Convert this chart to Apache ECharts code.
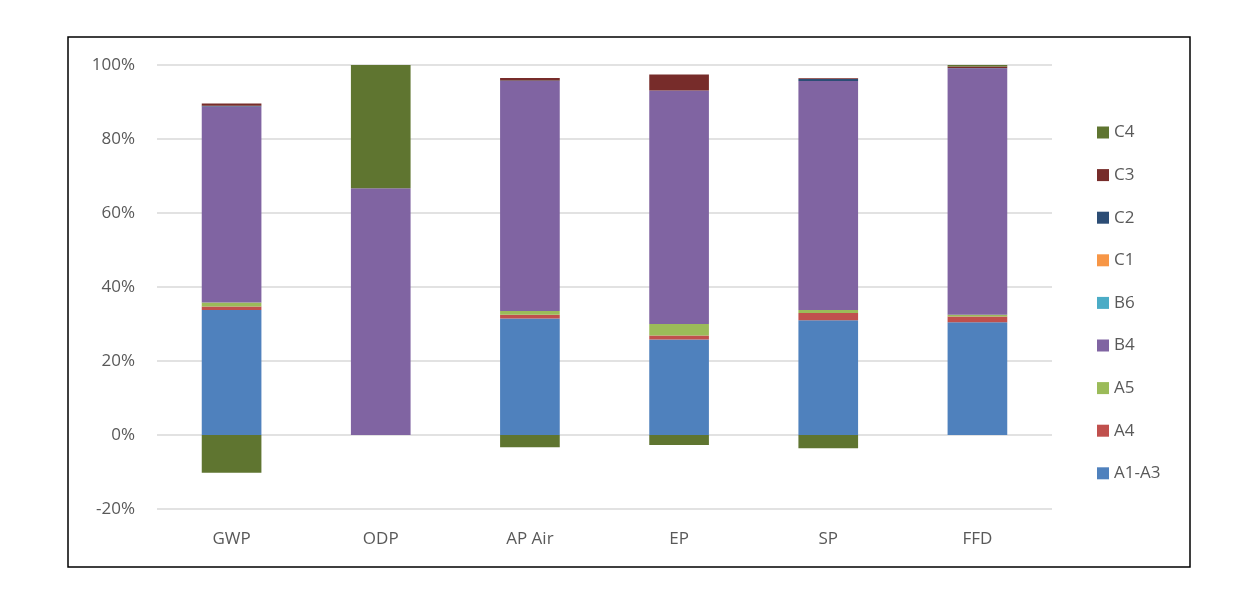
<!DOCTYPE html>
<html>
<head>
<meta charset="utf-8">
<script src="https://cdn.jsdelivr.net/npm/echarts@6/dist/echarts.min.js"></script>
<style>
  html, body { margin: 0; padding: 0; background: #fff; }
  #chart { width: 1249px; height: 594px; }
</style>
</head>
<body>
<div id="chart"></div>
<script>
// impact categories
var categories = ['GWP', 'ODP', 'AP Air', 'EP', 'SP', 'FFD'];

// life cycle modules, share in %
var a1a3 = [33.8, 0, 31.5, 25.8, 31.0, 30.5];
var a4   = [0.9, 0, 1.0, 1.1, 2.0, 1.5];
var a5   = [1.1, 0, 1.0, 3.1, 0.8, 0.5];
var b4   = [53.0, 66.7, 62.2, 63.1, 61.9, 66.6];
var b6   = [0, 0, 0, 0, 0, 0];
var c1   = [0, 0, 0, 0, 0, 0];
var c2   = [0.2, 0, 0.1, 0, 0.5, 0.1];
var c3   = [0.6, 0, 0.7, 4.3, 0.2, 0.4];
var c4   = [-10.2, 33.3, -3.3, -2.7, -3.6, 0.4];

var modules = [
    { name: 'A1-A3', data: a1a3, color: '#4F81BD' },
    { name: 'A4', data: a4, color: '#C0504D' },
    { name: 'A5', data: a5, color: '#9BBB59' },
    { name: 'B4', data: b4, color: '#8064A2' },
    { name: 'B6', data: b6, color: '#4BACC6' },
    { name: 'C1', data: c1, color: '#F79646' },
    { name: 'C2', data: c2, color: '#2C4D75' },
    { name: 'C3', data: c3, color: '#772C2A' },
    { name: 'C4', data: c4, color: '#5F7530' }
];

var series = modules.map(function (m) {
    return {
        name: m.name,
        type: 'bar',
        stack: 'total',
        barWidth: '40%',
        itemStyle: { color: m.color },
        data: m.data
    };
});

var font = '"Open Sans", "Liberation Sans", sans-serif';

var myChart = echarts.init(document.getElementById('chart'));
myChart.setOption({
    animation: false,
    backgroundColor: '#ffffff',
    textStyle: { fontFamily: font },
    graphic: [{
        type: 'rect',
        shape: { x: 68, y: 37, width: 1122, height: 530 },
        style: { fill: 'none', stroke: '#000', lineWidth: 1.5 },
        silent: true
    }],
    grid: { left: 157, right: 197, top: 65, bottom: 85 },
    legend: {
        orient: 'vertical',
        left: 1092,
        top: 119,
        itemWidth: 12,
        itemHeight: 12,
        itemGap: 25.6,
        icon: 'rect',
        textStyle: { color: '#595959', fontSize: 17, lineHeight: 16, fontFamily: font },
        data: modules.map(function (m) { return m.name; }).reverse()
    },
    xAxis: {
        type: 'category',
        data: categories,
        axisLine: { show: false, onZero: false },
        axisTick: { show: false },
        axisLabel: { color: '#595959', fontSize: 17, margin: 22 }
    },
    yAxis: {
        type: 'value',
        min: -20,
        max: 100,
        interval: 20,
        axisLine: { show: false },
        axisTick: { show: false },
        axisLabel: { color: '#595959', fontSize: 17, margin: 22, formatter: '{value}%' },
        splitLine: { lineStyle: { color: '#D9D9D9', width: 1.5 } }
    },
    series: series
});
</script>
</body>
</html>
